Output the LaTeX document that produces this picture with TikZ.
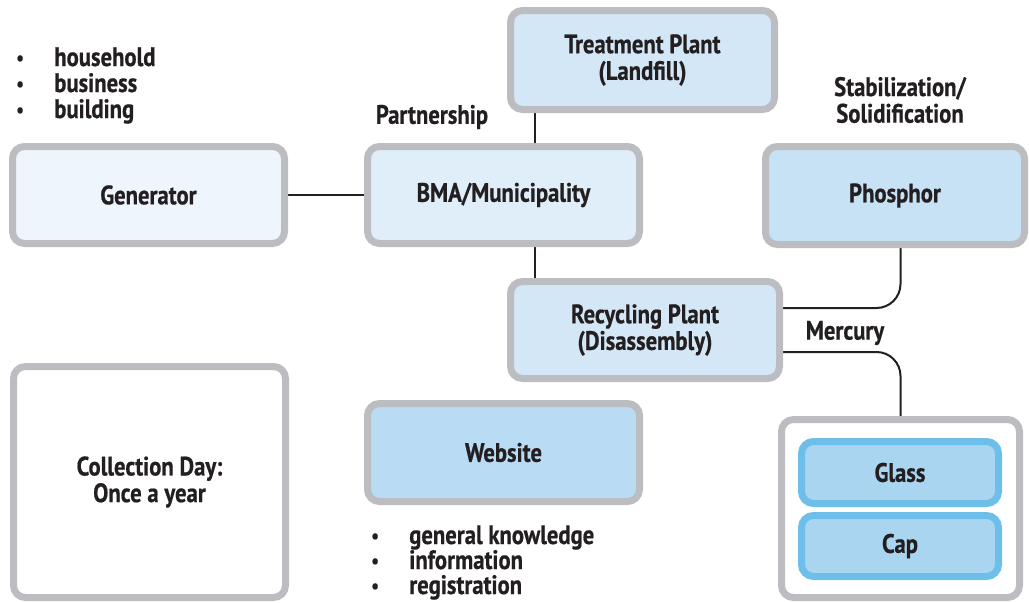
\documentclass[tikz,border=0pt]{standalone}
\usepackage{fontspec}
\setmainfont{PT Sans}[FakeStretch=0.85, FakeBold=0.6]
\usetikzlibrary{backgrounds}

\definecolor{rimgray}{HTML}{BCBDC0}
\definecolor{ink}{HTML}{231F20}
\definecolor{genfill}{HTML}{EEF5FC}
\definecolor{bmafill}{HTML}{E0EEF9}
\definecolor{plantfill}{HTML}{D3E7F6}
\definecolor{phosfill}{HTML}{C7E2F5}
\definecolor{webfill}{HTML}{B9DBF3}
\definecolor{glassfill}{HTML}{A9D5F1}
\definecolor{glassrim}{HTML}{6DBEE9}

\newcommand{\bigbold}{\bfseries\fontsize{20}{20}\selectfont}
\newcommand{\bulitem}[1]{\makebox[28.5pt][l]{\raisebox{1pt}{\fontsize{15}{15}\selectfont\textbullet}}#1}

\tikzset{
	box/.style={shape=rectangle, draw=rimgray, line width=5.25pt, rounded corners=9pt, align=center, text=ink, font=\bigbold, inner sep=0pt},
	glassbox/.style={box, draw=glassrim, fill=glassfill},
	wire/.style={draw=ink, line width=1.5pt},
	tag/.style={align=center, text=ink, font=\bigbold, inner sep=0pt},
	item/.style={anchor=base west, text=ink, font=\bigbold, inner sep=0pt},
}

\begin{document}
\begin{tikzpicture}[x=0.75pt, y=-0.75pt]
	\useasboundingbox (0,0) rectangle (1029,603);
	% Boxes:
	\node[box, fill=genfill, minimum width=204pt, minimum height=72.75pt] (gen) at (148.5,195) {Generator};
	\node[box, fill=bmafill, minimum width=204pt, minimum height=72.75pt] (bma) at (503.5,195) {BMA/Municipality};
	\node[box, fill=plantfill, minimum width=198pt, minimum height=74.25pt] (treat) at (642.5,60) {Treatment Plant\\(Landfill)};
	\node[box, fill=phosfill, minimum width=194.25pt, minimum height=73.5pt] (phos) at (895,195.5) {Phosphor};
	\node[box, fill=plantfill, minimum width=201.75pt, minimum height=72.75pt] (recyc) at (645,330) {Recycling Plant\\(Disassembly)};
	\node[box, fill=webfill, minimum width=204pt, minimum height=73.5pt] (web) at (503.5,452.5) {Website};
	\node[box, fill=white, minimum width=204pt, minimum height=173.25pt] (collect) at (149.5,482) {Collection Day:\\Once a year};
	\node[box, fill=white, minimum width=178.5pt, minimum height=133.5pt] (parts) at (900.5,508.5) {};
	\node[glassbox, minimum width=147.75pt, minimum height=46.5pt] (glass) at (900,472.5) {Glass};
	\node[glassbox, minimum width=147.75pt, minimum height=45.75pt] (cap) at (900,546) {Cap};
	% Labels:
	\node[tag] (partner) at (432,117) {Partnership};
	\node[tag] (stab) at (900,100) {Stabilization/\\Solidification};
	\node[tag] (merc) at (845,333) {Mercury};
	\node[item] (house) at (16,66) {\bulitem{household}};
	\node[item] (busi) at (16,92) {\bulitem{business}};
	\node[item] (build) at (16,118) {\bulitem{building}};
	\node[item] (know) at (371,544) {\bulitem{general knowledge}};
	\node[item] (info) at (371,569) {\bulitem{information}};
	\node[item] (regis) at (371,594) {\bulitem{registration}};
	% Wires:
	\coordinate (trunk) at (535,0);
	\begin{scope}[on background layer]
		\draw[wire] (gen) -- (bma);
		\draw[wire] (treat.south -| trunk) -- (bma.north -| trunk);
		\draw[wire] (bma.south -| trunk) -- (recyc.north -| trunk);
		\draw[wire, rounded corners=18pt] (phos.south -| parts.north) |- ([yshift=16.5pt]recyc.east);
		\draw[wire, rounded corners=18pt] ([yshift=-16.5pt]recyc.east) -| (parts.north);
	\end{scope}
\end{tikzpicture}
\end{document}
